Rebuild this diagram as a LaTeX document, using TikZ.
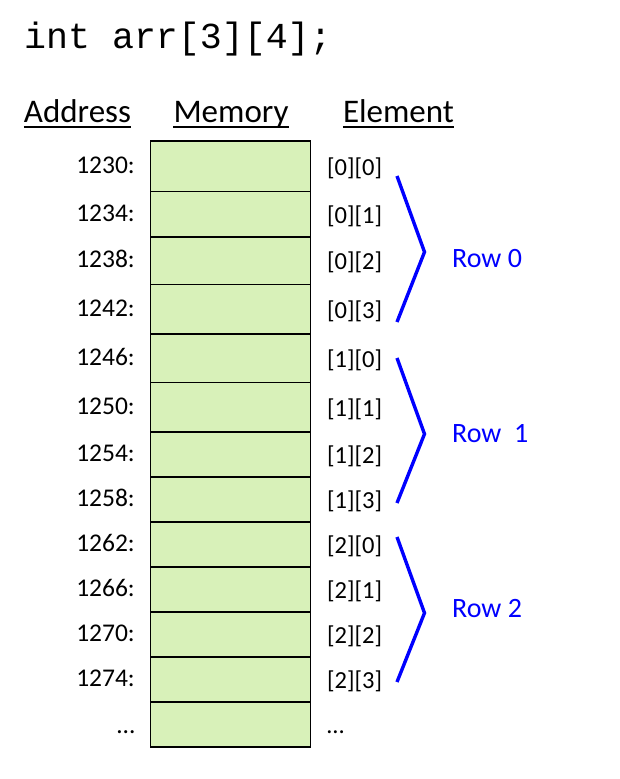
\documentclass[tikz,border=0pt]{standalone}
\usepackage{fontspec}
\setmainfont{Carlito}
\newfontfamily\codefont{Liberation Mono}
\definecolor{cellgreen}{RGB}{216,241,185}
\tikzset{
  cell/.style={draw, line width=1.5pt, fill=cellgreen, minimum width=160pt, inner sep=0pt},
  addr/.style={anchor=base east, inner sep=0pt, font=\fontsize{25.5}{25.5}\selectfont},
  elem/.style={anchor=base west, inner sep=0pt, font=\fontsize{24.5}{24.5}\selectfont},
  header/.style={anchor=base, inner sep=0pt, font=\fontsize{33}{33}\selectfont},
  rowbrace/.style={blue, line width=3.4pt},
  rowlabel/.style={anchor=west, inner sep=0pt, text=blue, font=\fontsize{28}{28}\selectfont},
}
\begin{document}
\begin{tikzpicture}[x=1pt, y=-1pt]
  \useasboundingbox (0,0) rectangle (620,779);
  % Declaration
  \node[anchor=base west, inner sep=0pt, font=\codefont\fontsize{36.6}{36.6}\selectfont] (decl) at (24,48) {int arr[3][4];};

  % Column headers
  \node[header] (addrhead) at (77.5,122) {Address};
  \node[header] (memhead) at (231,122) {Memory};
  \node[header] (elemhead) at (398.5,122) {Element};
  \foreach \h in {addrhead, memhead, elemhead}
    \draw[line width=2pt] ([yshift=-5pt]\h.base west) -- ([yshift=-5pt]\h.base east);

  % Memory cells with addresses and element indices
  \foreach \top/\bot [count=\i from 0] in {141/191.5, 191.5/237, 237/284.5, 284.5/334,
      334/382.5, 382.5/432, 432/477, 477/522, 522/567, 567/612, 612/657, 657/702, 702/747} {
    \pgfmathsetmacro\cy{(\top+\bot)/2}
    \node[cell, minimum height={\bot-\top}] (c\i) at (230.4,\cy) {};
    \ifnum\i<12
      \pgfmathtruncatemacro\addr{1230+4*\i}
      \pgfmathtruncatemacro\rw{\i/4}
      \pgfmathtruncatemacro\cl{mod(\i,4)}
      \node[addr] (a\i) at (135,{\cy+7}) {\addr:};
      \node[elem] (e\i) at (327,{\cy+9}) {[\rw][\cl]};
    \else
      \node[addr] (a\i) at (135,{\cy+8.5}) {…};
      \node[elem] (e\i) at (327,{\cy+8.5}) {…};
    \fi
  }

  % Row brackets
  \draw[rowbrace] (397,176) -- (424.5,252) -- (397,322);
  \draw[rowbrace] (397,358) -- (424.5,434) -- (397,503);
  \draw[rowbrace] (397,537) -- (424.5,613) -- (397,682);
  \node[rowlabel] (row0) at (452,259) {Row 0};
  \node[rowlabel] (row1) at (452,434) {Row~~1};
  \node[rowlabel] (row2) at (452,609) {Row 2};
\end{tikzpicture}
\end{document}
